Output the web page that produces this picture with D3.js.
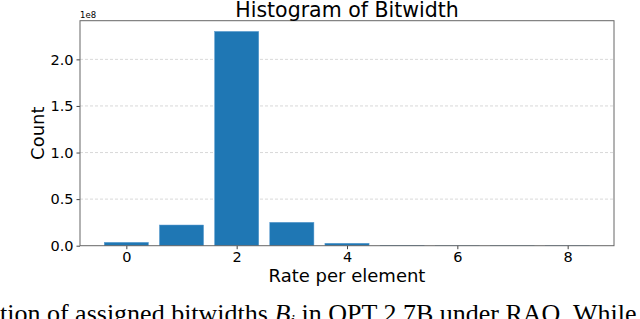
<!DOCTYPE html>
<html>
<head>
<meta charset="utf-8">
<script src="https://cdn.jsdelivr.net/npm/d3@7"></script>
<style>
  body { margin: 0; background: #fff; overflow: hidden; }
  svg { display: block; }
</style>
</head>
<body>
<svg id="fig" width="640" height="319"></svg>
<script>
// bitwidth histogram, counts in units of 1e8
const bitwidths = [0, 1, 2, 3, 4, 5, 6, 7, 8];
const counts = [0.036, 0.222, 2.30, 0.251, 0.026, 0.004, 0.0005, 0.0002, 0.0001];
const yTicks = [0.0, 0.5, 1.0, 1.5, 2.0];
const xTicks = [0, 2, 4, 6, 8];

const svg = d3.select('#fig');
const margin = {left: 80, top: 20.7, right: 26, bottom: 73.3};
const width = 640 - margin.left - margin.right;
const height = 319 - margin.top - margin.bottom;

const g = svg.append('g')
    .attr('transform', `translate(${margin.left},${margin.top})`);

let xScale = d3.scaleLinear()
    .domain([-0.84, 8.84])
    .range([0, width]);

let yScale = d3.scaleLinear()
    .domain([0, 2.415])
    .range([height, 0]);

// horizontal grid
g.selectAll('.grid')
    .data(yTicks.slice(1))
    .enter()
    .append('line')
    .attr('x1', 0)
    .attr('x2', width)
    .attr('y1', d => yScale(d))
    .attr('y2', d => yScale(d))
    .attr('stroke', '#cfcfcf')
    .attr('stroke-width', 0.8)
    .attr('stroke-dasharray', '3,2');

// bars
g.selectAll('rect.bar')
    .data(bitwidths)
    .enter()
    .append('rect')
    .attr('class', 'bar')
    .attr('x', d => xScale(d - 0.4))
    .attr('width', d => xScale(d + 0.4) - xScale(d - 0.4))
    .attr('y', (d, i) => yScale(counts[i]))
    .attr('height', (d, i) => height - yScale(counts[i]))
    .attr('fill', '#1f77b4')
    .attr('stroke', '#5a9bd0')
    .attr('stroke-width', 0.5);

// axes
const font = 'DejaVu Sans, sans-serif';
let xAxis = g.append('g')
    .attr('transform', `translate(0,${height})`)
    .call(d3.axisBottom(xScale).tickValues(xTicks).tickFormat(d3.format('d')).tickSize(3.5).tickPadding(3));
let yAxis = g.append('g')
    .call(d3.axisLeft(yScale).tickValues(yTicks).tickFormat(d3.format('.1f')).tickSize(3.5).tickPadding(3));

[xAxis, yAxis].forEach(a => {
    a.select('.domain').remove();
    a.selectAll('line').attr('stroke', '#444');
    a.selectAll('text')
        .attr('font-family', font)
        .attr('font-size', 14.5)
        .attr('fill', '#000');
});

// frame
g.append('rect')
    .attr('width', width)
    .attr('height', height)
    .attr('fill', 'none')
    .attr('stroke', '#666')
    .attr('stroke-width', 1);

// offset text
svg.append('text')
    .attr('x', margin.left)
    .attr('y', 18)
    .attr('font-family', font)
    .attr('font-size', 8.5)
    .text('1e8');

// title
svg.append('text')
    .attr('x', margin.left + width / 2)
    .attr('y', 16.5)
    .attr('text-anchor', 'middle')
    .attr('font-family', font)
    .attr('font-size', 20.5)
    .text('Histogram of Bitwidth');

// axis titles
svg.append('text')
    .attr('x', margin.left + width / 2)
    .attr('y', 282)
    .attr('text-anchor', 'middle')
    .attr('font-family', font)
    .attr('font-size', 18)
    .text('Rate per element');

svg.append('text')
    .attr('transform', `translate(44,${margin.top + height / 2}) rotate(-90)`)
    .attr('text-anchor', 'middle')
    .attr('font-family', font)
    .attr('font-size', 18)
    .text('Count');

// caption fragment from the page below the figure
const cap = svg.append('text')
    .attr('x', 0)
    .attr('y', 322)
    .attr('font-family', 'Liberation Serif, serif')
    .attr('font-size', 26);
cap.append('tspan').text('tion of assigned bitwidths ');
cap.append('tspan').attr('font-style', 'italic').text('B');
cap.append('tspan').attr('font-style', 'italic').attr('font-size', 17).attr('dy', 4).text('i');
cap.append('tspan').attr('dy', -4).text(' in OPT 2.7B under RAQ. While');
</script>
</body>
</html>
